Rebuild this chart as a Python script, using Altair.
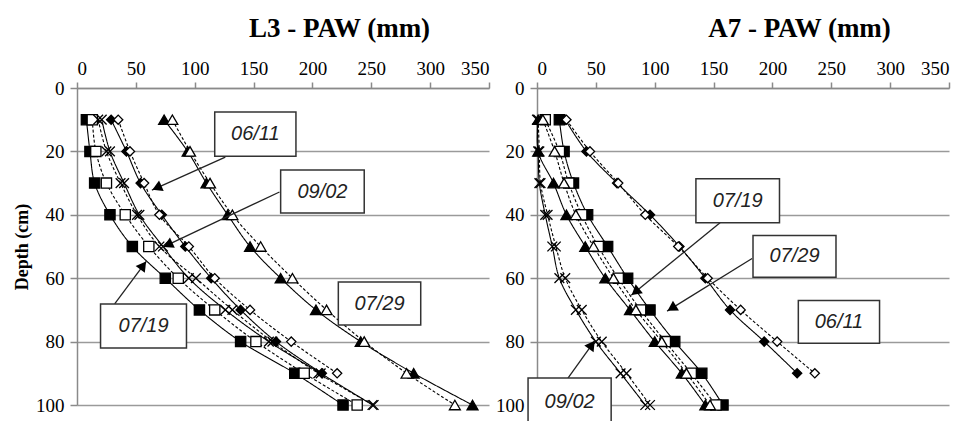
import math
import altair as alt
import pandas as pd

DEPTHS = [10, 20, 30, 40, 50, 60, 70, 80, 90, 100]

# ---- L3 panel (PAW, mm) ----
L3_SQ_FILLED = [8, 11, 15, 28, 47, 75, 104, 139, 185, 226]
L3_SQ_OPEN = [13, 16, 25, 41, 61, 86, 117, 152, 193, 238]
L3_X_SOLID = [21, 28, 40, 53, 73, 95, 126, 163, 207, 251]
L3_X_DASHED = [18, 25, 37, 51, 70, 101, 132, 166, 205, 252]
L3_DI_FILLED = [29, 42, 54, 72, 92, 114, 139, 169, 208]
L3_DI_OPEN = [35, 45, 57, 70, 95, 117, 147, 182, 221]
L3_TR_FILLED = [74, 94, 110, 128, 147, 173, 203, 241, 286, 336]
L3_TR_OPEN = [81, 96, 113, 132, 156, 183, 212, 244, 280, 321]

# ---- A7 panel (PAW, mm) ----
A7_SQ_FILLED = [19, 23, 31, 43, 60, 77, 96, 117, 140, 158]
A7_SQ_OPEN = [7, 19, 27, 38, 52, 69, 88, 109, 131, 152]
A7_X_SOLID = [0, 1, 2, 7, 13, 19, 33, 50, 71, 92]
A7_X_DASHED = [1, 2, 3, 9, 16, 24, 38, 55, 76, 96]
A7_DI_FILLED = [24, 42, 68, 96, 121, 143, 164, 193, 221]
A7_DI_OPEN = [25, 45, 69, 92, 120, 145, 173, 204, 236]
A7_TR_FILLED = [1, 1, 14, 25, 41, 58, 79, 100, 123, 143]
A7_TR_OPEN = [5, 15, 23, 33, 48, 65, 84, 106, 127, 147]

# ---- callouts ----
L3_BOX_LABEL = ["06/11", "09/02", "07/19", "07/29"]
L3_BOX_X1 = [117, 173, 20, 222]
L3_BOX_X2 = [186, 244, 93, 292]
L3_BOX_Y1 = [7.6, 25.9, 68.1, 61.2]
L3_BOX_Y2 = [21.5, 39.4, 82.0, 74.8]
L3_ARROW_FROM_X = [126, 172, 32]
L3_ARROW_FROM_Y = [21.8, 32.8, 68.1]
L3_ARROW_TIP_X = [63.6, 73, 59]
L3_ARROW_TIP_Y = [32.2, 50.2, 54.6]

A7_BOX_LABEL = ["07/19", "07/29", "06/11", "09/02"]
A7_BOX_X1 = [135, 183.5, 222, -7.6]
A7_BOX_X2 = [206, 254, 291, 63]
A7_BOX_Y1 = [28.6, 46.5, 67.0, 91.5]
A7_BOX_Y2 = [42.5, 59.7, 80.5, 107]
A7_BOX_TEXT_Y = [35.5, 53.1, 73.7, 99]
A7_ARROW_FROM_X = [155.5, 182.7, 26.3]
A7_ARROW_FROM_Y = [42.5, 53.8, 91.5]
A7_ARROW_TIP_X = [80, 110.5, 49.3]
A7_ARROW_TIP_Y = [65.4, 70.4, 79.6]

W, H = 412, 317
XPX = W / 350.0
YPX = H / 100.0

SHAPES = {
    "square": "square",
    "triangle": "triangle-up",
    "diamond": "diamond",
    "x": "M-1,-1L1,1M-1,1L1,-1",
}
SIZES = {"square": 105, "triangle": 120, "diamond": 85, "x": 95}


def series_rows(panel, sid, vals, marker, filled, dashed):
    out = []
    for d, v in zip(DEPTHS, vals):
        out.append(dict(panel=panel, series=sid, depth=d, paw=v, marker=marker,
                        fillc="black" if filled else "white",
                        dash="dashed" if dashed else "solid",
                        msize=SIZES[marker]))
    return out


rows = []
rows += series_rows("L3", "sqf", L3_SQ_FILLED, "square", True, False)
rows += series_rows("L3", "sqo", L3_SQ_OPEN, "square", False, True)
rows += series_rows("L3", "xs", L3_X_SOLID, "x", True, False)
rows += series_rows("L3", "xd", L3_X_DASHED, "x", False, True)
rows += series_rows("L3", "dif", L3_DI_FILLED, "diamond", True, False)
rows += series_rows("L3", "dio", L3_DI_OPEN, "diamond", False, True)
rows += series_rows("L3", "trf", L3_TR_FILLED, "triangle", True, False)
rows += series_rows("L3", "tro", L3_TR_OPEN, "triangle", False, True)
rows += series_rows("A7", "sqf", A7_SQ_FILLED, "square", True, False)
rows += series_rows("A7", "sqo", A7_SQ_OPEN, "square", False, True)
rows += series_rows("A7", "xs", A7_X_SOLID, "x", True, False)
rows += series_rows("A7", "xd", A7_X_DASHED, "x", False, True)
rows += series_rows("A7", "dif", A7_DI_FILLED, "diamond", True, False)
rows += series_rows("A7", "dio", A7_DI_OPEN, "diamond", False, True)
rows += series_rows("A7", "trf", A7_TR_FILLED, "triangle", True, False)
rows += series_rows("A7", "tro", A7_TR_OPEN, "triangle", False, True)
data = pd.DataFrame(rows)


def boxes_df(labels, x1, x2, y1, y2, ty=None):
    out = []
    for i, lab in enumerate(labels):
        out.append(dict(label=lab, paw=x1[i], paw2=x2[i], depth=y1[i], depth2=y2[i],
                        tx=(x1[i] + x2[i]) / 2.0,
                        ty=(ty[i] if ty else (y1[i] + y2[i]) / 2.0)))
    return pd.DataFrame(out)


def arrows_df(fx, fy, tx, ty):
    out = []
    for i in range(len(fx)):
        dx = (tx[i] - fx[i]) * XPX
        dy = (ty[i] - fy[i]) * YPX
        n = math.hypot(dx, dy)
        ux, uy = dx / n, dy / n
        ang = math.degrees(math.atan2(dx, -dy)) % 360
        hx = tx[i] - ux * 5.5 / XPX
        hy = ty[i] - uy * 5.5 / YPX
        out.append(dict(paw=fx[i], depth=fy[i], paw2=tx[i], depth2=ty[i],
                        hx=hx, hy=hy, ang=ang))
    return pd.DataFrame(out)


SERIF = "Liberation Serif"
SANS = "Liberation Sans"


def xenc(field, title):
    return alt.X(field, type="quantitative",
                 scale=alt.Scale(domain=[0, 350], nice=False, zero=False),
                 axis=alt.Axis(orient="top", values=[0, 50, 100, 150, 200, 250, 300, 350],
                               grid=False, title=title, titleFontSize=27,
                               titleFont=SERIF, titleFontWeight="bold",
                               titleX=262, titleY=-52, titleAlign="center",
                               titleBaseline="alphabetic", titleColor="black",
                               labelFont=SERIF, labelFontSize=19, labelColor="black",
                               tickSize=6, labelPadding=4))


def yenc(field, title):
    kw = dict(values=[0, 20, 40, 60, 80, 100], grid=True, tickSize=7,
              labelPadding=6, labelFont=SERIF, labelFontSize=19, labelColor="black")
    if title:
        ax = alt.Axis(title=title, titleFontSize=18, titleFont=SERIF,
                      titleFontWeight="bold", titlePadding=4, titleColor="black", **kw)
    else:
        ax = alt.Axis(title=None, **kw)
    return alt.Y(field, type="quantitative",
                 scale=alt.Scale(domain=[0, 100], reverse=True, nice=False, zero=False),
                 axis=ax)


def panel(name, xtitle, ytitle, boxes, arrows):
    d = data[data["panel"] == name]
    X = xenc("paw", xtitle)
    Y = yenc("depth", ytitle)
    lines = alt.Chart(d).mark_line(interpolate="catmull-rom", color="black",
                                   strokeWidth=1.1).encode(
        x=X, y=Y, detail="series:N", order="depth:Q",
        strokeDash=alt.StrokeDash("dash:N", scale=alt.Scale(domain=["solid", "dashed"],
                                                            range=[[1, 0], [3, 2]]),
                                  legend=None))
    points = alt.Chart(d).mark_point(filled=True, opacity=1, strokeWidth=1.3).encode(
        x=X, y=Y,
        shape=alt.Shape("marker:N", scale=alt.Scale(domain=list(SHAPES.keys()),
                                                    range=list(SHAPES.values())),
                        legend=None),
        fill=alt.Fill("fillc:N", scale=None),
        stroke=alt.value("black"),
        size=alt.Size("msize:Q", scale=None))
    rules = alt.Chart(arrows).mark_rule(color="#222", strokeWidth=1.3).encode(
        x=X, y=Y, x2="paw2:Q", y2="depth2:Q")
    heads = alt.Chart(arrows).mark_point(shape="triangle-up", filled=True, opacity=1,
                                         color="black", size=130).encode(
        x=xenc("hx", xtitle), y=yenc("hy", ytitle), angle=alt.Angle("ang:Q", scale=None))
    rects = alt.Chart(boxes).mark_rect(fill="white", stroke="#333",
                                       strokeWidth=1.5).encode(
        x=X, y=Y, x2="paw2:Q", y2="depth2:Q")
    texts = alt.Chart(boxes).mark_text(font=SANS, fontSize=20, fontStyle="italic",
                                       color="#222", baseline="middle").encode(
        x=xenc("tx", xtitle), y=yenc("ty", ytitle), text="label:N")
    return alt.layer(lines, points, rules, heads, rects, texts).properties(
        width=W, height=H)


left = panel("L3", "L3 - PAW (mm)", "Depth (cm)",
             boxes_df(L3_BOX_LABEL, L3_BOX_X1, L3_BOX_X2, L3_BOX_Y1, L3_BOX_Y2),
             arrows_df(L3_ARROW_FROM_X, L3_ARROW_FROM_Y, L3_ARROW_TIP_X, L3_ARROW_TIP_Y))
right = panel("A7", "A7 - PAW (mm)", None,
              boxes_df(A7_BOX_LABEL, A7_BOX_X1, A7_BOX_X2, A7_BOX_Y1, A7_BOX_Y2,
                       A7_BOX_TEXT_Y),
              arrows_df(A7_ARROW_FROM_X, A7_ARROW_FROM_Y, A7_ARROW_TIP_X, A7_ARROW_TIP_Y))

chart = alt.hconcat(left, right, spacing=48, bounds="flush").properties(
    padding={"left": 13, "top": 14, "right": 5, "bottom": 5},
    background="white",
).configure_view(strokeWidth=0).configure_axis(
    labelFont=SERIF, labelFontSize=19, labelColor="black",
    domainColor="#8a8a8a", domainWidth=1.5, tickColor="#8a8a8a", tickWidth=1.5,
    gridColor="#9a9a9a", gridWidth=1.5,
)

chart.save("out.html", embed_options={"renderer": "svg", "actions": False})
